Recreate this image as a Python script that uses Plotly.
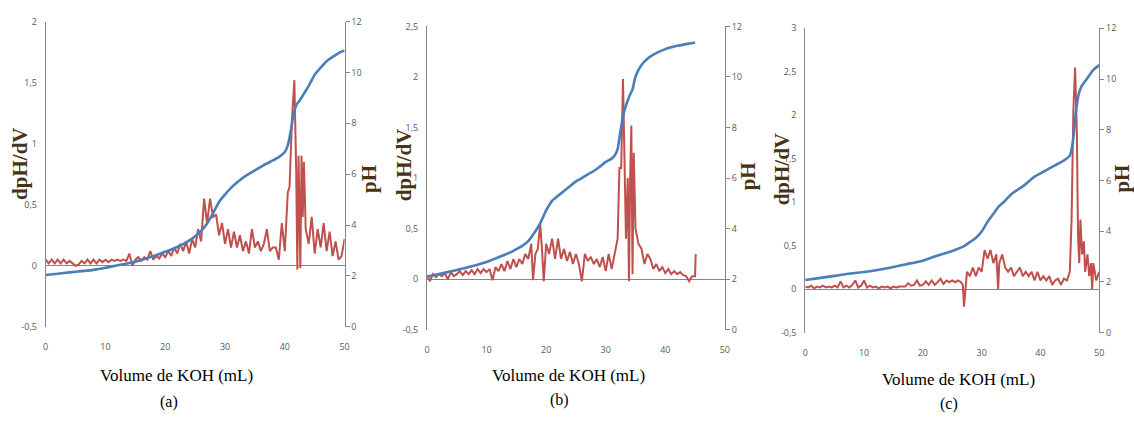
import plotly.graph_objects as go

# ---------------- data ----------------
# Panel (a)
vol_a_ph = [0, 2, 4, 6, 8, 10, 12, 14, 16, 18, 20, 22, 24, 25, 26, 27, 28, 29, 30, 31, 32, 33, 34, 35, 36,
            37, 38, 39, 40, 40.5, 41, 41.5, 42, 42.5, 43, 44, 45, 46, 47, 48, 49, 50]
ph_a = [2.04, 2.09, 2.14, 2.19, 2.24, 2.32, 2.42, 2.51, 2.63, 2.78, 2.95, 3.14, 3.39, 3.56, 3.77, 4.06, 4.47,
        4.91, 5.2, 5.46, 5.67, 5.86, 6.01, 6.15, 6.29, 6.42, 6.54, 6.67, 6.87, 7.13, 7.7, 8.39, 8.75, 8.9,
        9.09, 9.47, 9.91, 10.19, 10.44, 10.61, 10.76, 10.86]
vol_a_d = [0, 0.5, 1, 1.5, 2, 2.5, 3, 3.5, 4, 4.5, 5, 5.5, 6, 6.5, 7, 7.5, 8, 8.5, 9, 9.5,
           10, 10.5, 11, 11.5, 12, 12.5, 13, 13.5, 14, 14.5, 15, 15.5, 16, 16.5, 17, 17.5, 18, 18.5, 19, 19.5,
           20, 20.5, 21, 21.5, 22, 22.5, 23, 23.5, 24, 24.5, 25, 25.5, 26, 26.5, 27, 27.5, 28, 28.5, 29, 29.5,
           30, 30.5, 31, 31.5, 32, 32.5, 33, 33.5, 34, 34.5, 35, 35.5, 36, 36.5, 37, 37.5, 38, 38.5, 39, 39.5,
           40, 40.5, 40.8, 41.2, 41.6, 41.9, 42.1, 42.3, 42.5, 42.6, 42.8, 43, 43.2, 43.5,
           44, 44.5, 45, 45.5, 46, 46.5, 47, 47.5, 48, 48.5, 49, 49.5, 50]
dpdv_a = [0.05, 0.02, 0.05, 0.02, 0.05, 0.02, 0.05, 0.02, 0.04, 0.02, 0.0, 0.01, 0.04, 0.02, 0.05, 0.02, 0.05, 0.02, 0.05, 0.03,
          0.05, 0.03, 0.05, 0.04, 0.05, 0.04, 0.05, 0.04, 0.1, 0.0, 0.05, 0.07, 0.04, 0.07, 0.05, 0.12, 0.05, 0.08, 0.06, 0.1,
          0.07, 0.12, 0.08, 0.15, 0.1, 0.18, 0.12, 0.2, 0.1, 0.22, 0.15, 0.3, 0.2, 0.55, 0.35, 0.55, 0.4, 0.42, 0.25, 0.35,
          0.18, 0.3, 0.15, 0.28, 0.15, 0.25, 0.12, 0.2, 0.1, 0.3, 0.15, 0.2, 0.12, 0.18, 0.3, 0.12, 0.15, 0.15, 0.05, 0.35,
          0.12, 0.6, 0.65, 1.2, 1.52, 0.8, -0.03, 0.9, 0.3, -0.02, 0.9, 0.4, 0.85, 0.3,
          0.18, 0.4, 0.1, 0.3, 0.15, 0.35, 0.12, 0.28, 0.08, 0.2, 0.05, 0.08, 0.22]

# Panel (b)
vol_b_ph = [0, 5, 10, 12, 14, 15, 16, 17, 18, 19, 20, 21, 22, 23, 24, 25, 26, 27, 28, 29, 30, 31, 31.5, 32,
            32.5, 33, 33.5, 34, 34.5, 35, 36, 37, 38, 40, 42, 44, 45]
ph_b = [2.1, 2.36, 2.68, 2.87, 3.06, 3.19, 3.32, 3.51, 3.83, 4.21, 4.72, 5.1, 5.3, 5.49, 5.68, 5.87, 6.0, 6.15,
        6.28, 6.45, 6.64, 6.77, 6.89, 7.15, 7.9, 8.55, 8.94, 9.26, 9.51, 10.02, 10.47, 10.72, 10.88, 11.1,
        11.23, 11.32, 11.36]
vol_b_d = [0, 0.5, 1, 1.5, 2, 2.5, 3, 3.5, 4, 4.5, 5, 5.5, 6, 6.5, 7, 7.5, 8, 8.5, 9, 9.5,
           10, 10.5, 11, 11.5, 12, 12.5, 13, 13.5, 14, 14.5, 15, 15.5, 16, 16.5, 17, 17.5,
           17.8, 18.2, 18.6, 19, 19.3, 19.6, 20, 20.5, 21, 21.5, 22, 22.5, 23, 23.5, 24, 24.5, 25, 25.5,
           26, 26.5, 27, 27.5, 28, 28.5, 29, 29.5, 30, 30.5, 31, 31.5, 32, 32.3, 32.6, 32.9, 33.1, 33.4,
           33.7, 33.9, 34.1, 34.3, 34.5, 34.7, 35, 35.5, 36, 36.5, 37, 37.5, 38, 38.5, 39, 39.5, 40, 40.5,
           41, 41.5, 42, 42.5, 43, 43.5, 44, 44.5, 45, 45.1]
dpdv_b = [0.04, -0.02, 0.05, 0.02, 0.05, 0.03, 0.06, 0.0, 0.07, 0.03, 0.05, 0.08, 0.04, 0.08, 0.05, 0.09, 0.05, 0.1, 0.06, 0.1,
          0.07, 0.1, -0.01, 0.12, 0.08, 0.15, 0.08, 0.18, 0.1, 0.2, 0.12, 0.2, 0.15, 0.25, 0.2, 0.35,
          -0.01, 0.25, 0.3, 0.55, 0.3, -0.02, 0.35, 0.25, 0.4, 0.2, 0.4, 0.2, 0.3, 0.18, 0.27, 0.15, 0.25, 0.15,
          -0.02, 0.25, 0.18, 0.22, 0.15, 0.2, 0.12, 0.22, 0.08, 0.25, 0.1, 0.25, 0.4, 1.1, 1.1, 1.98, 1.4, 0.4,
          1.0, -0.02, 1.0, 1.52, 0.05, 1.25, 0.5, 0.35, 0.3, 0.15, 0.25, 0.2, 0.1, 0.15, 0.08, 0.12, 0.06, 0.1,
          0.05, 0.08, 0.05, 0.07, 0.04, 0.03, -0.02, 0.03, 0.03, 0.25]

# Panel (c)
vol_c_ph = [0, 2, 5, 7, 10, 12, 15, 17, 20, 22, 25, 27, 28, 29, 30, 31, 32, 33, 34, 35, 36, 37, 38, 39, 40,
            41, 42, 43, 44, 45, 45.5, 46, 46.5, 47, 48, 49, 50]
ph_c = [2.08, 2.14, 2.24, 2.31, 2.39, 2.46, 2.59, 2.69, 2.84, 3.0, 3.22, 3.41, 3.57, 3.73, 3.99, 4.37, 4.69,
        5.0, 5.2, 5.45, 5.62, 5.77, 5.96, 6.15, 6.28, 6.41, 6.54, 6.66, 6.79, 6.98, 7.49, 8.64, 9.4, 9.72,
        10.04, 10.36, 10.55]
vol_c_d = [0, 0.5, 1, 1.5, 2, 2.5, 3, 3.5, 4, 4.5, 5, 5.5, 6, 6.5, 7, 7.5, 8, 8.5, 9, 9.5,
           10, 10.5, 11, 11.5, 12, 12.5, 13, 13.5, 14, 14.5, 15, 15.5, 16, 16.5, 17, 17.5, 18, 18.5, 19, 19.5,
           20, 20.5, 21, 21.5, 22, 22.5, 23, 23.5, 24, 24.5, 25, 25.5, 26, 26.5,
           26.8, 27, 27.3, 27.5, 28, 28.5, 29, 29.5, 30, 30.5, 31, 31.5, 32, 32.5, 32.8, 33, 33.5, 34, 34.5,
           35, 35.5, 36, 36.5, 37, 37.5, 38, 38.5, 39, 39.5, 40, 40.5, 41, 41.5, 42, 42.5, 43, 43.5, 44, 44.5,
           45, 45.3, 45.6, 45.9, 46.2, 46.4, 46.6, 46.8, 47.1, 47.4, 47.6, 48, 48.3, 48.6, 48.8, 49, 49.5, 50]
dpdv_c = [0.03, 0.02, 0.04, 0.01, 0.03, 0.02, 0.04, 0.02, 0.03, 0.02, 0.04, 0.02, 0.09, 0.02, 0.04, 0.02, 0.05, 0.1, 0.02, 0.04,
          0.1, 0.02, 0.04, 0.02, 0.03, 0.01, 0.03, 0.02, 0.03, 0.01, 0.03, 0.02, 0.03, 0.03, 0.03, 0.07, 0.04, 0.05, 0.1, 0.04,
          0.05, 0.09, 0.05, 0.1, 0.05, 0.08, 0.12, 0.06, 0.1, 0.08, 0.1, 0.08, 0.1, 0.08,
          0.05, -0.2, 0.0, 0.2, 0.15, 0.25, 0.15, 0.25, 0.2, 0.45, 0.35, 0.45, 0.3, 0.4, 0.0, 0.3, 0.4, 0.25, 0.2,
          0.25, 0.15, 0.2, 0.25, 0.15, 0.2, 0.15, 0.2, 0.1, 0.2, 0.1, 0.15, 0.1, 0.15, 0.05, 0.1, 0.12, 0.05, 0.12, 0.1,
          0.2, 0.8, 2.05, 2.55, 1.8, 0.6, 0.3, 0.8, 0.4, 0.55, 0.2, 0.4, 0.15, 0.3, 0.0, 0.3, 0.1, 0.2]

x_ticks = [0, 10, 20, 30, 40, 50]
ph_ticks = [0, 2, 4, 6, 8, 10, 12]
d_ticks_a = [-0.5, 0, 0.5, 1, 1.5, 2]
d_ticks_b = [-0.5, 0, 0.5, 1, 1.5, 2, 2.5]
d_ticks_c = [-0.5, 0, 0.5, 1, 1.5, 2, 2.5, 3]
x_title = "Volume de KOH (mL)"
panel_labels = ["(a)", "(b)", "(c)"]

# ---------------- layout geometry (pixels) ----------------
W, H = 1134, 423
panels = [
    dict(x0=43, x1=344, ytop=15, ybot=330, dmax=2.0, dticks=d_ticks_a,
         vd=vol_a_d, d=dpdv_a, vp=vol_a_ph, p=ph_a,
         yl_x=17, yl_y=162, pr_x=368, pr_y=177, t_x=175, t_y=380, l_x=167, l_y=408),
    dict(x0=427, x1=727, ytop=20, ybot=333, dmax=2.5, dticks=d_ticks_b,
         vd=vol_b_d, d=dpdv_b, vp=vol_b_ph, p=ph_b,
         yl_x=404, yl_y=163, pr_x=750, pr_y=175, t_x=570, t_y=380, l_x=560, l_y=405),
    dict(x0=808, x1=1104, ytop=22, ybot=336, dmax=3.0, dticks=d_ticks_c,
         vd=vol_c_d, d=dpdv_c, vp=vol_c_ph, p=ph_c,
         yl_x=784, yl_y=167, pr_x=1127, pr_y=177, t_x=962, t_y=384, l_x=953, l_y=410),
]

RED = "#C0504D"
BLUE = "#4A7EBB"
GRAY = "#868686"
TICKFONT = dict(family="Open Sans, sans-serif", size=9, color="#595959")
TITLE_COLOR = "#4B3212"


def fmt(v):
    return ("%g" % v).replace(".", ",")


fig = go.Figure()
layout = dict(width=W, height=H, margin=dict(l=0, r=0, t=0, b=0),
              paper_bgcolor="white", plot_bgcolor="white", showlegend=False)
annotations = []

for i, P in enumerate(panels):
    k = i + 1
    xa = "x" if k == 1 else f"x{k}"
    yl = f"y{2 * k - 1}" if k > 1 else "y"
    yr = f"y{2 * k}"
    xname = "xaxis" if k == 1 else f"xaxis{k}"
    ylname = "yaxis" if k == 1 else f"yaxis{2 * k - 1}"
    yrname = f"yaxis{2 * k}"

    fig.add_trace(go.Scatter(x=P["vd"], y=P["d"], mode="lines", xaxis=xa, yaxis=yl,
                             line=dict(color=RED, width=2)))
    fig.add_trace(go.Scatter(x=P["vp"], y=P["p"], mode="lines", xaxis=xa, yaxis=yr,
                             line=dict(color=BLUE, width=2.6, shape="spline", smoothing=0.6)))

    dom_x = [P["x0"] / W, P["x1"] / W]
    dom_y = [1 - P["ybot"] / H, 1 - P["ytop"] / H]
    layout[xname] = dict(domain=dom_x, anchor=yl, range=[0, 50], tickvals=x_ticks,
                         showline=False, showgrid=False, zeroline=False, ticks="",
                         tickfont=TICKFONT, ticklabelstandoff=13)
    layout[ylname] = dict(domain=dom_y, anchor=xa, range=[-0.5, P["dmax"]],
                          tickvals=P["dticks"], ticktext=[fmt(v) for v in P["dticks"]],
                          showline=True, linecolor=GRAY, linewidth=1, showgrid=False,
                          zeroline=True, zerolinecolor=GRAY, zerolinewidth=1.3,
                          ticks="", tickfont=TICKFONT, ticklabelstandoff=6)
    layout[yrname] = dict(overlaying=yl, side="right", anchor=xa, range=[0, 12],
                          tickvals=ph_ticks, showline=True, linecolor=GRAY, linewidth=1,
                          showgrid=False, zeroline=False, ticks="outside", ticklen=4,
                          tickcolor=GRAY, tickfont=TICKFONT)

    annotations += [
        dict(text="<b>dpH/dV</b>", x=P["yl_x"] / W, y=1 - P["yl_y"] / H, xref="paper", yref="paper",
             showarrow=False, textangle=-90,
             font=dict(family="Liberation Serif, serif", size=21, color=TITLE_COLOR),
             xanchor="center", yanchor="middle"),
        dict(text="<b>pH</b>", x=P["pr_x"] / W, y=1 - P["pr_y"] / H, xref="paper", yref="paper",
             showarrow=False, textangle=-90,
             font=dict(family="Liberation Serif, serif", size=21, color=TITLE_COLOR),
             xanchor="center", yanchor="middle"),
        dict(text=x_title, x=P["t_x"] / W, y=1 - P["t_y"] / H, xref="paper", yref="paper",
             showarrow=False, font=dict(family="Liberation Serif, serif", size=17, color="black"),
             xanchor="center", yanchor="middle"),
        dict(text=panel_labels[i], x=P["l_x"] / W, y=1 - P["l_y"] / H, xref="paper", yref="paper",
             showarrow=False, font=dict(family="Liberation Serif, serif", size=16, color="black"),
             xanchor="center", yanchor="middle"),
    ]

layout["annotations"] = annotations
fig.update_layout(**layout)
fig.write_html("out.html")
